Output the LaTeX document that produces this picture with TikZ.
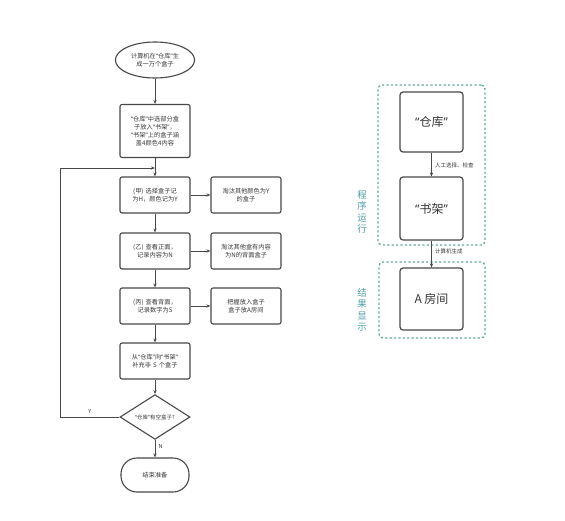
\documentclass[tikz,border=0pt]{standalone}
\usepackage{fontspec}
\setmainfont{Noto Sans CJK SC}
\newfontfamily\qfont{Noto Sans}
\newcommand\oq{{\qfont “}}
\newcommand\cq{{\qfont ”}}
\XeTeXlinebreaklocale "zh"
\XeTeXlinebreakskip=0pt plus 0.05pt
\usetikzlibrary{shapes.geometric,arrows.meta}
\definecolor{linegray}{RGB}{72,72,72}
\definecolor{txtgray}{RGB}{55,55,55}
\definecolor{tealdash}{RGB}{100,170,162}
\definecolor{tealtxt}{RGB}{80,160,168}
\begin{document}
\begin{tikzpicture}[x=1pt,y=-1pt,
  box/.style={draw=linegray, line width=1.1pt, rounded corners=2pt, minimum width=70pt,
    minimum height=36pt, text width=62pt, align=center, inner sep=2pt,
    text=txtgray, font=\fontsize{6.2}{8}\selectfont},
  bigbox/.style={draw=linegray, line width=1.2pt, rounded corners=3pt, minimum width=63pt,
    text=txtgray, font=\fontsize{12}{14}\selectfont},
  arr/.style={-{Stealth[length=4pt,width=3.2pt]}, draw=linegray, line width=0.8pt},
  dashbox/.style={draw=tealdash, line width=1.3pt, dash pattern=on 2.2pt off 2.2pt, rounded corners=4pt},
  vlabel/.style={text=tealtxt, align=center, font=\fontsize{9.5}{11.5}\selectfont},
  elabel/.style={text=txtgray, font=\fontsize{5.5}{6.5}\selectfont}]
\useasboundingbox[fill=white] (0,0) rectangle (565,520);

% left flowchart
\node[ellipse, draw=linegray, line width=1.1pt, minimum width=70pt, minimum height=36pt,
  inner sep=0pt, text width=56pt, align=center, text=txtgray,
  font=\fontsize{6.2}{8}\selectfont] (start) at (155,60) {计算机在\oq 仓库\cq 生\\成一万个盒子};
\node[box, minimum height=53pt] (b2) at (155,131) {\oq 仓库\cq 中选部分盒\\子放入\oq 书架\cq ，\\\oq 书架\cq 上的盒子涵\\盖4颜色4内容};
\node[box] (b3) at (155,195) {(甲) 选择盒子记\\为H，颜色记为Y};
\node[box] (r3) at (246,195) {淘汰其他颜色为Y\\的盒子};
\node[box] (b4) at (155,251) {(乙) 查看正面，\\记录内容为N};
\node[box] (r4) at (246,251) {淘汰其他盒有内容\\为N的背面盒子};
\node[box] (b5) at (155,306) {(丙) 查看背面，\\记录数字为S};
\node[box] (r5) at (246,306) {把握放入盒子\\盒子放A房间};
\node[box] (b6) at (155,361) {从\oq 仓库\cq 向\oq 书架\cq\\补充非 S 个盒子};
\node[diamond, draw=linegray, line width=1.1pt, minimum width=70pt, minimum height=31pt,
  inner sep=0pt, text=txtgray, font=\fontsize{5.5}{6.5}\selectfont] (dia) at (155,417) {\oq 仓库\cq 有空盒子?};
\node[draw=linegray, line width=1.1pt, rounded corners=16pt, minimum width=68pt,
  minimum height=34pt, text=txtgray, font=\fontsize{6.2}{7}\selectfont] (end) at (155,475) {结束准备};

\coordinate (j) at (155,168);
\coordinate (lc) at (60,417);

\draw[arr] (start) -- (b2);
\draw[arr] (b2) -- (b3);
\draw[arr] (b3) -- (b4);
\draw[arr] (b4) -- (b5);
\draw[arr] (b5) -- (b6);
\draw[arr] (b6) -- (dia);
\draw[arr] (b3) -- (r3);
\draw[arr] (b4) -- (r4);
\draw[arr] (b5) -- (r5);
\draw[arr] (dia) -- node[right, elabel, pos=0.4] {N} (end);
\draw[arr] (dia.west) -- node[above, elabel] {Y} (lc) |- (j);

% right diagram
\node[dashbox, minimum width=107pt, minimum height=160pt] (g1) at (431.5,165) {};
\node[dashbox, minimum width=106pt, minimum height=76pt] (g2) at (432,300) {};
\node[bigbox, minimum height=60pt] (wh) at (431.5,122) {\oq 仓库\cq};
\node[bigbox, minimum height=63pt] (sh) at (431.5,208.5) {\oq 书架\cq};
\node[bigbox, minimum height=62pt] (room) at (431.5,299) {A 房间};
\draw[arr] (wh) -- node[right, elabel, pos=0.55] {人工选择、检查} (sh);
\draw[arr] (sh) -- node[right, elabel, pos=0.42] {计算机生成} (room);
\node[vlabel] (l1) at (362,212) {程\\序\\运\\行};
\node[vlabel] (l2) at (362,310) {结\\果\\显\\示};
\end{tikzpicture}
\end{document}
